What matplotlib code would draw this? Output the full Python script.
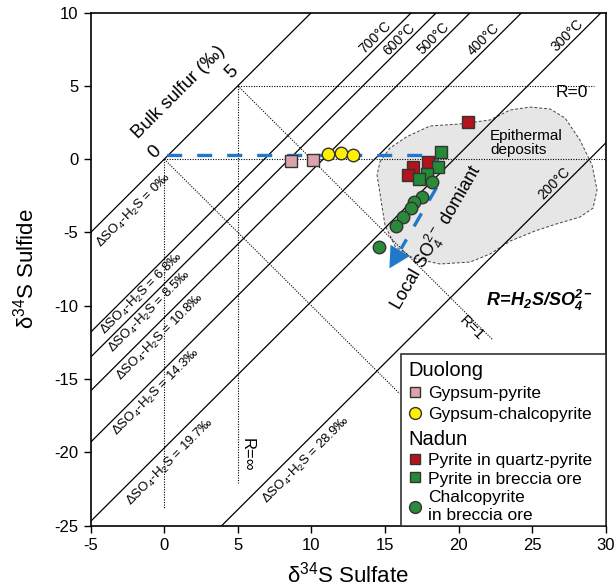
import matplotlib
matplotlib.use('Agg')
import matplotlib.pyplot as plt
import numpy as np
from matplotlib.path import Path
from matplotlib.patches import PathPatch, Polygon, Rectangle

plt.rcParams['font.family'] = ['Liberation Sans', 'DejaVu Sans']
plt.rcParams['mathtext.fontset'] = 'custom'
plt.rcParams['mathtext.rm'] = 'Liberation Sans'
plt.rcParams['mathtext.it'] = 'Liberation Sans:italic'
plt.rcParams['mathtext.bf'] = 'Liberation Sans:bold:italic'
plt.rcParams['axes.unicode_minus'] = False

# isotope fractionation lines (delta SO4-H2S, permil)
frac_delta = [0, 6.8, 8.5, 10.8, 14.3, 19.7, 28.9]
frac_names = ['0', '6.8', '8.5', '10.8', '14.3', '19.7', '28.9']
# matching temperatures
temp_labels = ['700°C', '600°C', '500°C', '400°C', '300°C', '200°C']
temp_delta = [6.8, 8.5, 10.8, 14.3, 19.7, 28.9]

# Duolong
gp_x = [8.6, 10.1]                      # gypsum-pyrite
gp_y = [-0.1, -0.05]
gc_x = [11.15, 12.0, 12.8]              # gypsum-chalcopyrite
gc_y = [0.35, 0.45, 0.28]

# Nadun
qp_x = [20.66, 16.88, 16.54, 17.94]     # pyrite in quartz-pyrite
qp_y = [2.55, -0.56, -1.06, -0.18]
bp_x = [18.79, 18.58, 17.88, 17.33]     # pyrite in breccia ore
bp_y = [0.51, -0.56, -1.02, -1.36]
bc_x = [18.22, 17.54, 16.99, 16.77, 16.2, 15.78, 14.61]   # chalcopyrite in breccia ore
bc_y = [-1.54, -2.61, -2.95, -3.3, -3.98, -4.56, -5.98]

# epithermal deposits field
epi_x = [14.66, 15.34, 16.48, 18.06, 20.1, 22.14, 23.5, 24.86, 26.22, 27.24, 28.25,
         29.07, 29.41, 29.14, 28.25, 26.62, 25.2, 23.5, 22.14, 20.78, 18.74, 16.9,
         15.68, 15.0, 14.73, 14.46]
epi_y = [-0.18, 0.76, 1.53, 2.26, 2.4, 2.67, 3.35, 3.55, 3.42, 2.8, 1.3,
         -0.4, -2.1, -3.34, -3.95, -4.43, -4.9, -5.59, -6.47, -7.02, -7.15, -6.75,
         -5.93, -4.5, -2.79, -1.08]

# dotted reference lines (R = 0, R = 1, R = inf, bulk sulfur axes)
guide_x = [[0, 30], [5, 29.2], [0, 0], [5, 5], [0, 16], [5, 22.3]]
guide_y = [[0, 0], [5, 5], [0, -23.8], [5, -22.1], [0, -16], [5, -12.3]]

# local SO4 dominant trend (blue dashed arrow)
trend_x = [0.2, 17.7, 19.1, 18.7, 16.1]
trend_y = [0.25, 0.25, 0.2, -1.6, -6.1]
trend_tip = (15.3, -7.45)

xmin, xmax, ymin, ymax = -5, 30, -25, 10
blue = '#1f78c8'

fig = plt.figure(figsize=(6.14, 5.87), dpi=100)
ax = fig.add_axes([0.1477, 0.1044, 0.8388, 0.8743])
ax.set_xlim(xmin, xmax)
ax.set_ylim(ymin, ymax)

# shaded field
ax.add_patch(Polygon(np.column_stack([epi_x, epi_y]), closed=True, fc='#e6e6e6',
                     ec='#444444', ls=(0, (3, 2)), lw=0.7, zorder=0.5))

# fractionation lines
for d in frac_delta:
    ax.plot([xmin, xmax], [xmin - d, xmax - d], color='black', lw=0.9, zorder=1)

for gx, gy in zip(guide_x, guide_y):
    ax.plot(gx, gy, color='black', lw=0.8, ls=(0, (1, 1.3)), zorder=1)

# labels on the lines
frac_label_x = [-2.06, -1.53, -0.97, -0.3, -0.51, 0.44, 9.68]
frac_label_off = [1.45, 0.85, 0.95, 1.05, 1.1, 1.4, 1.3]
for d, name, lx, off in zip(frac_delta, frac_names, frac_label_x, frac_label_off):
    ax.text(lx, lx - d - off, r'$\Delta$SO$_4$-H$_2$S = ' + name + '‰', rotation=45,
            rotation_mode='anchor', ha='center', va='center', fontsize=9.5)
temp_label_x = [14.55, 16.14, 18.51, 21.91, 27.57, 26.67]
for d, t, lx in zip(temp_delta, temp_labels, temp_label_x):
    ax.text(lx, lx - d + 0.35, t, rotation=45, rotation_mode='anchor',
            ha='center', va='baseline', fontsize=10)

ax.text(1.0, 4.58, 'Bulk sulfur (‰)', rotation=45, rotation_mode='anchor',
        ha='center', va='center', fontsize=13.5)
ax.text(-0.63, 0.5, '0', rotation=45, rotation_mode='anchor', ha='center', va='center', fontsize=13.5)
ax.text(4.58, 5.96, '5', rotation=45, rotation_mode='anchor', ha='center', va='center', fontsize=13.5)
ax.text(27.7, 4.55, 'R=0', ha='center', va='center', fontsize=12.5)
ax.text(22.14, 1.13, 'Epithermal\ndeposits', ha='left', va='center', fontsize=11, linespacing=1.0)
ax.text(18.45, -5.35, r'Local SO$_4^{2-}$ domiant', rotation=60, rotation_mode='anchor',
        ha='center', va='center', fontsize=13)
ax.text(25.47, -9.61, r'$\mathbf{R\!=\!H_2S/SO_4^{2-}}$', ha='center', va='center', fontsize=13)
ax.text(20.89, -11.54, 'R=1', rotation=-45, rotation_mode='anchor', ha='center', va='center', fontsize=11)
ax.text(5.6, -20.18, 'R=∞', rotation=-90, rotation_mode='anchor', ha='center', va='center', fontsize=12)

# trend arrow
codes = [Path.MOVETO, Path.LINETO, Path.CURVE3, Path.CURVE3, Path.LINETO]
ax.add_patch(PathPatch(Path(np.column_stack([trend_x, trend_y]), codes), fill=False,
                       ec=blue, lw=2.4, ls=(0, (4.5, 4.5)), capstyle='butt', zorder=3))
ax.annotate('', xy=trend_tip, xytext=(trend_x[-1], trend_y[-1]),
            arrowprops=dict(arrowstyle='-|>,head_length=0.75,head_width=0.4', color=blue,
                            lw=0, mutation_scale=20, shrinkA=0, shrinkB=0), zorder=3)

# samples
edge = '#333333'
h_gp, = ax.plot(gp_x, gp_y, 's', ms=8, mfc='#dca3aa', mec=edge, mew=1, zorder=4, label='Gypsum-pyrite')
h_gc, = ax.plot(gc_x, gc_y, 'o', ms=9, mfc='#fff000', mec=edge, mew=1, zorder=4, label='Gypsum-chalcopyrite')
h_qp, = ax.plot(qp_x, qp_y, 's', ms=8, mfc='#b3131b', mec=edge, mew=1, zorder=4, label='Pyrite in quartz-pyrite')
h_bp, = ax.plot(bp_x, bp_y, 's', ms=8, mfc='#258a35', mec=edge, mew=1, zorder=4, label='Pyrite in breccia ore')
h_bc, = ax.plot(bc_x, bc_y, 'o', ms=9, mfc='#2a8a3a', mec=edge, mew=1, zorder=4,
                label='Chalcopyrite\nin breccia ore')

# legend box
ax.add_patch(Rectangle((0.6025, 0), 0.3975, 0.3346, transform=ax.transAxes, fc='white',
                       ec='#333333', lw=1.2, zorder=5))
leg_kw = dict(loc='upper left', frameon=False, fontsize=12.5, title_fontsize=14.5,
              alignment='left', handlelength=0.8, handletextpad=0.35, borderpad=0.2,
              borderaxespad=0, markerscale=0.95)
leg1 = ax.legend(handles=[h_gp, h_gc], title='Duolong', bbox_to_anchor=(0.61, 0.327),
                 labelspacing=0.33, **leg_kw)
leg1.set_zorder(6)
ax.add_artist(leg1)
leg2 = ax.legend(handles=[h_qp, h_bp, h_bc], title='Nadun', bbox_to_anchor=(0.61, 0.194),
                 labelspacing=0.22, **leg_kw)
leg2.set_zorder(6)

ax.set_xticks(np.arange(-5, 31, 5))
ax.set_yticks(np.arange(-25, 11, 5))
ax.tick_params(direction='out', length=5, width=1, labelsize=12, pad=4)
for s in ax.spines.values():
    s.set_linewidth(1.2)
ax.set_xlabel(r'$\mathrm{\delta}^{34}$S Sulfate', fontsize=16, labelpad=6)
ax.set_ylabel(r'$\mathrm{\delta}^{34}$S Sulfide', fontsize=16, labelpad=11)

fig.savefig('out.png', dpi=100)
